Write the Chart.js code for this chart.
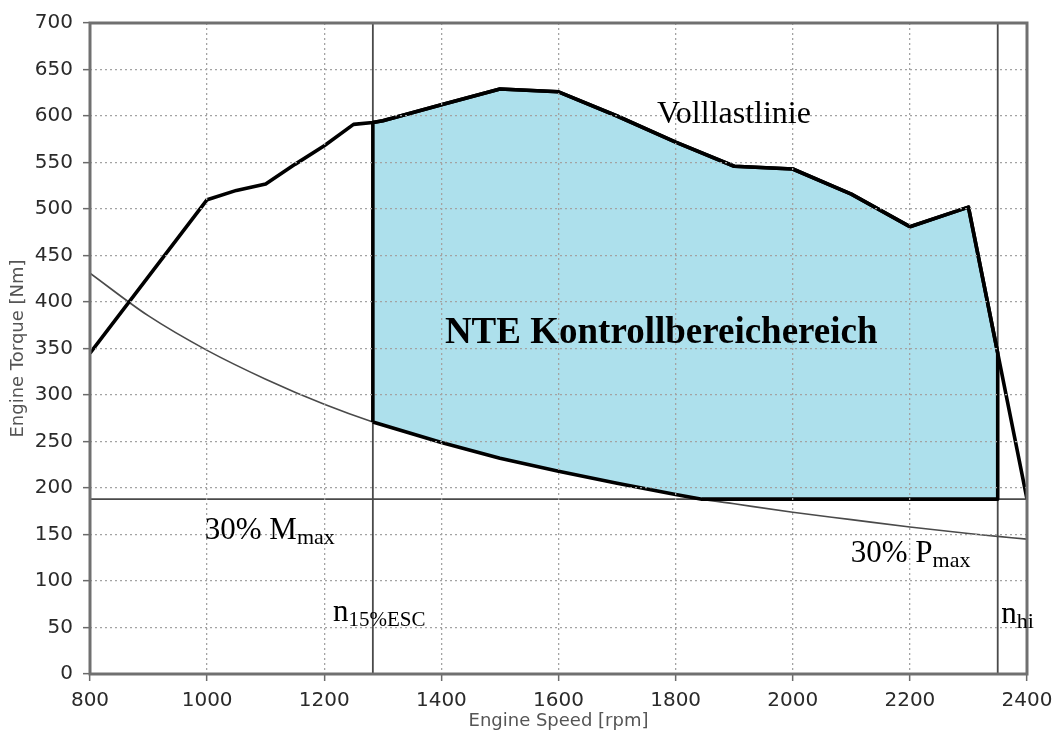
<!DOCTYPE html>
<html>
<head>
<meta charset="utf-8">
<script src="https://cdn.jsdelivr.net/npm/chart.js@4/dist/chart.umd.min.js"></script>
<style>
  html, body { margin: 0; padding: 0; background: #ffffff; }
  #wrap { width: 1054px; height: 736px; }
</style>
</head>
<body>
<div id="wrap"><canvas id="c" width="1054" height="736"></canvas></div>
<script>
// Full-load torque curve (Volllastlinie)
const fullLoadRpm = [800, 1000, 1050, 1100, 1150, 1200, 1250, 1283, 1300, 1400, 1500, 1600, 1700, 1800, 1900, 2000, 2100, 2200, 2300, 2350, 2400];
const fullLoadNm  = [345, 510, 520, 527, 548, 568, 591, 593, 595, 612, 629, 626, 600, 572, 546, 543, 516, 481, 502, 345, 188];

// Torque at 30 % of rated power
const powerRpm = [800, 900, 1000, 1100, 1200, 1283, 1400, 1500, 1600, 1700, 1800, 1845, 1900, 2000, 2100, 2200, 2300, 2350, 2400];
const powerNm  = [431, 385, 348, 317, 290, 271, 249, 232, 218, 205, 193, 188, 183, 174, 166, 158, 151, 148, 145];

// 30 % of maximum torque
const torqueFloorNm = 188;

// Speed limits of the control area
const speedLowRpm = 1283;   // n15%ESC
const speedHighRpm = 2350;  // n_hi

// Axis ticks
const speedTicks = [800, 1000, 1200, 1400, 1600, 1800, 2000, 2200, 2400];
const torqueTicks = [0, 50, 100, 150, 200, 250, 300, 350, 400, 450, 500, 550, 600, 650, 700];

const pts = (xs, ys) => xs.map((x, i) => ({ x, y: ys[i] }));
const fullLoad = pts(fullLoadRpm, fullLoadNm);
const powerLine = pts(powerRpm, powerNm);

// Outline of the NTE control area
const lowerLeft = powerLine.find(p => p.x === speedLowRpm);
const upperEdge = fullLoad.filter(p => p.x >= speedLowRpm && p.x <= speedHighRpm);
const lowerEdge = powerLine.filter(p => p.x >= speedLowRpm && p.y >= torqueFloorNm).reverse();
const nteArea = [lowerLeft, ...upperEdge, { x: speedHighRpm, y: torqueFloorNm }, ...lowerEdge];

const speedMin = speedTicks[0], speedMax = speedTicks[speedTicks.length - 1];
const torqueMin = torqueTicks[0], torqueMax = torqueTicks[torqueTicks.length - 1];

const thin = '#4a4a4a';

// Text written on the plot, anchored in data units
const notes = [
  { x: 1768, y: 592, text: 'Volllastlinie', sub: '', size: 32, subSize: 22, bold: false },
  { x: 1406, y: 356, text: 'NTE Kontrollbereichereich', sub: '', size: 37, subSize: 22, bold: true },
  { x: 996,  y: 145, text: '30% M', sub: 'max', size: 31, subSize: 22, bold: false },
  { x: 2099, y: 120, text: '30% P', sub: 'max', size: 31, subSize: 22, bold: false },
  { x: 1215, y: 57,  text: 'n', sub: '15%ESC', size: 31, subSize: 21, bold: false },
  { x: 2356, y: 55,  text: 'n', sub: 'hi', size: 31, subSize: 22, bold: false }
];

const frame = {
  id: 'frame',
  afterDraw(chart) {
    const { ctx, chartArea: a } = chart;
    ctx.save();
    ctx.setLineDash([]);
    ctx.strokeStyle = '#707070';
    ctx.lineWidth = 3;
    ctx.strokeRect(a.left, a.top, a.right - a.left, a.bottom - a.top);
    ctx.restore();
  }
};

const noteText = {
  id: 'noteText',
  afterDraw(chart) {
    const { ctx } = chart;
    const xs = chart.scales.x, ys = chart.scales.y;
    ctx.save();
    ctx.fillStyle = '#000';
    ctx.textBaseline = 'alphabetic';
    ctx.textAlign = 'left';
    notes.forEach(n => {
      const px = xs.getPixelForValue(n.x);
      const py = ys.getPixelForValue(n.y);
      ctx.font = (n.bold ? 'bold ' : '') + n.size + 'px "Liberation Serif", "Times New Roman", serif';
      ctx.fillText(n.text, px, py);
      if (n.sub) {
        const w = ctx.measureText(n.text).width;
        ctx.font = n.subSize + 'px "Liberation Serif", "Times New Roman", serif';
        ctx.fillText(n.sub, px + w, py + 5);
      }
    });
    ctx.restore();
  }
};

const gridStyle = () => ({
  color: '#a3a3a3',
  lineWidth: 1.3,
  z: 1,
  drawTicks: true,
  tickLength: 7,
  tickColor: '#6a6a6a',
  tickWidth: 1.5,
  tickBorderDash: []
});
// grid dash lives under border in Chart.js v4; the frame itself is drawn by the plugin
const borderStyle = () => ({ display: false, dash: [2, 3], z: 1 });

const tickFont = { family: '"DejaVu Sans", sans-serif', size: 20 };
const titleFont = { family: '"DejaVu Sans", sans-serif', size: 18 };

new Chart(document.getElementById('c'), {
  type: 'line',
  data: {
    datasets: [
      {
        label: 'Volllastlinie',
        data: fullLoad,
        borderColor: '#000',
        borderWidth: 3.6,
        borderJoinStyle: 'round',
        pointRadius: 0,
        fill: false,
        order: 0
      },
      {
        label: 'NTE',
        data: nteArea,
        borderColor: '#000',
        borderWidth: 3.6,
        borderJoinStyle: 'round',
        backgroundColor: 'rgb(173, 224, 236)',
        pointRadius: 0,
        fill: 'shape',
        order: 1
      },
      {
        label: '30% Pmax',
        data: powerLine,
        borderColor: thin,
        borderWidth: 1.6,
        cubicInterpolationMode: 'monotone',
        pointRadius: 0,
        fill: false,
        order: 2
      },
      {
        label: '30% Mmax',
        data: [{ x: speedMin, y: torqueFloorNm }, { x: speedMax, y: torqueFloorNm }],
        borderColor: thin,
        borderWidth: 1.6,
        pointRadius: 0,
        fill: false,
        order: 2
      },
      {
        label: 'n15%ESC',
        data: [{ x: speedLowRpm, y: torqueMin }, { x: speedLowRpm, y: torqueMax }],
        borderColor: thin,
        borderWidth: 1.8,
        pointRadius: 0,
        fill: false,
        order: 2
      },
      {
        label: 'nhi',
        data: [{ x: speedHighRpm, y: torqueMin }, { x: speedHighRpm, y: torqueMax }],
        borderColor: thin,
        borderWidth: 1.8,
        pointRadius: 0,
        fill: false,
        order: 2
      }
    ]
  },
  options: {
    responsive: false,
    animation: false,
    devicePixelRatio: 1,
    layout: { padding: { top: 23, right: 27, left: 0, bottom: 0 } },
    plugins: { legend: { display: false }, tooltip: { enabled: false } },
    scales: {
      x: {
        type: 'linear',
        min: speedMin,
        max: speedMax,
        afterBuildTicks: s => { s.ticks = speedTicks.map(v => ({ value: v })); },
        afterFit: s => { s.height = 62; s.paddingLeft = 0; s.paddingRight = 0; },
        ticks: {
          autoSkip: false,
          maxRotation: 0,
          padding: 8,
          color: '#2a2a2a',
          font: tickFont,
          callback: v => String(v)
        },
        grid: gridStyle(),
        border: borderStyle(),
        title: {
          display: true,
          text: 'Engine Speed [rpm]',
          color: '#555',
          font: titleFont,
          padding: { top: 0, bottom: 4 }
        }
      },
      y: {
        type: 'linear',
        min: torqueMin,
        max: torqueMax,
        afterBuildTicks: s => { s.ticks = torqueTicks.map(v => ({ value: v })); },
        afterFit: s => { s.width = 90; s.paddingTop = 0; s.paddingBottom = 0; },
        ticks: {
          autoSkip: false,
          padding: 10,
          color: '#2a2a2a',
          font: tickFont,
          callback: v => String(v)
        },
        grid: gridStyle(),
        border: borderStyle(),
        title: {
          display: true,
          text: 'Engine Torque [Nm]',
          color: '#555',
          font: titleFont,
          padding: { top: 8, bottom: 0 }
        }
      }
    }
  },
  plugins: [frame, noteText]
});
</script>
</body>
</html>
